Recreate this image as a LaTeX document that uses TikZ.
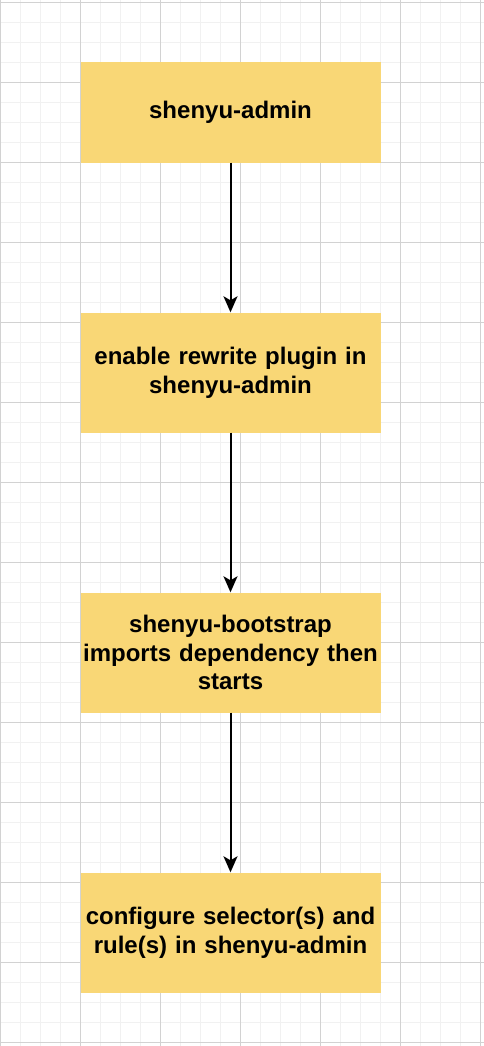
\documentclass[tikz,border=0pt]{standalone}
\usepackage{fontspec}
\setmainfont{Liberation Sans}
\usetikzlibrary{arrows.meta}
\definecolor{boxfill}{HTML}{F9D776}
\definecolor{gridminor}{HTML}{F1F1F1}
\definecolor{gridmajor}{HTML}{D2D2D2}
\begin{document}
\begin{tikzpicture}[x=1pt,y=-1pt,
 stepbox/.style={draw=none,fill=boxfill,minimum width=300pt,minimum height=#1,inner sep=0pt,text width=300pt,align=center,font=\bfseries\fontsize{24}{28.8}\selectfont},
 flow/.style={line width=2pt,-{Stealth[length=16pt,width=14pt,inset=4pt]}}]
\useasboundingbox (0,0) rectangle (484,1046);
\fill[white] (0,0) rectangle (484,1046);
\foreach \i in {0,...,24} \draw[gridminor,line width=1.6pt] (0.5+20*\i,0) -- (0.5+20*\i,1046);
\foreach \i in {0,...,52} \draw[gridminor,line width=1.6pt] (0,2.5+20*\i) -- (484,2.5+20*\i);
\foreach \i in {0,...,6} \draw[gridmajor,line width=1pt] (0.5+80*\i,0) -- (0.5+80*\i,1046);
\foreach \i in {0,...,13} \draw[gridmajor,line width=1pt] (0,2.5+80*\i) -- (484,2.5+80*\i);
\node[stepbox=100pt] (b1) at (230.5,112.5) {shenyu-admin};
\node[stepbox=120pt] (b2) at (230.5,372.5) {enable rewrite plugin in\\shenyu-admin};
\node[stepbox=120pt] (b3) at (230.5,652.5) {shenyu-bootstrap\\imports dependency then\\starts};
\node[stepbox=120pt] (b4) at (230.5,932.5) {configure selector(s) and\\rule(s) in shenyu-admin};
\draw[flow] (b1) -- (b2);
\draw[flow] (b2) -- (b3);
\draw[flow] (b3) -- (b4);
\end{tikzpicture}
\end{document}
